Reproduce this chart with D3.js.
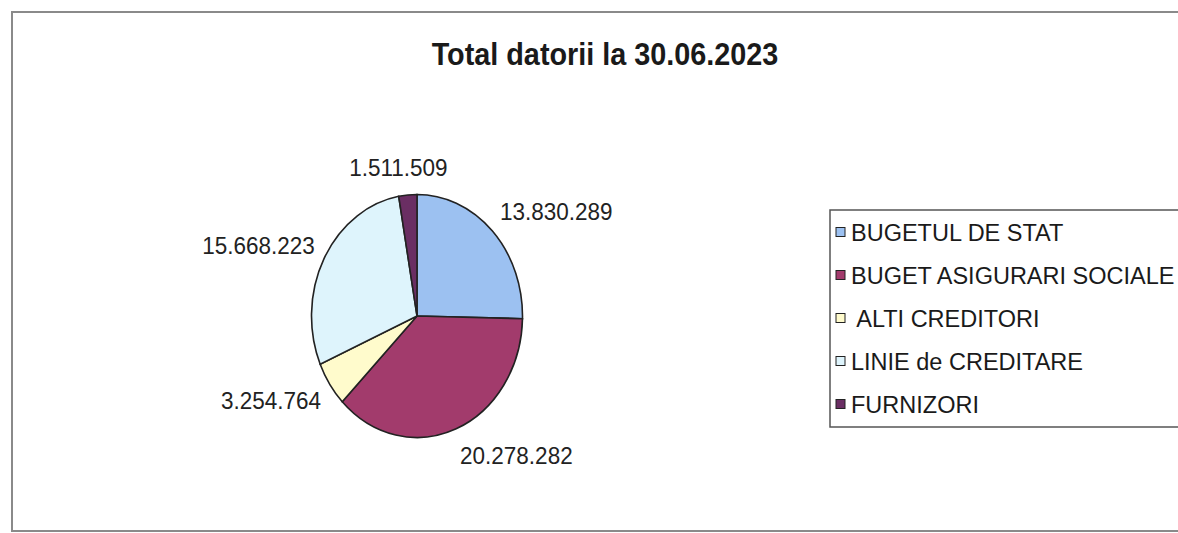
<!DOCTYPE html>
<html>
<head>
<meta charset="utf-8">
<script src="https://cdn.jsdelivr.net/npm/d3@7"></script>
<style>
  html, body { margin: 0; padding: 0; background: #fff; }
  svg { display: block; font-family: "Liberation Sans", Arial, sans-serif; }
</style>
</head>
<body>
<div id="chart"></div>
<script>
const width = 1178;
const height = 533;

const title = "Total datorii la 30.06.2023";
const categories = ["BUGETUL DE STAT", "BUGET ASIGURARI SOCIALE", " ALTI CREDITORI", "LINIE de CREDITARE", "FURNIZORI"];
const values = [13830289, 20278282, 3254764, 15668223, 1511509];
const valueLabels = ["13.830.289", "20.278.282", "3.254.764", "15.668.223", "1.511.509"];
const colors = ["#9cc1f1", "#a23b6c", "#fffbcc", "#def4fc", "#6a2e63"];

const cx = 417, cy = 316;
const rx = 105.5, ry = 121.5;
const stretch = 1.1; // scan is a bit taller than wide

const svg = d3.select("#chart").append("svg")
  .attr("width", width)
  .attr("height", height)
  .attr("viewBox", [0, 0, width, height]);

// chart area border (runs off right edge)
svg.append("rect")
  .attr("x", 12).attr("y", 12)
  .attr("width", width + 20).attr("height", 519)
  .attr("fill", "none")
  .attr("stroke", "#8a8a8a")
  .attr("stroke-width", 2);

svg.append("text")
  .attr("transform", `translate(605,65) scale(1,${stretch})`)
  .attr("text-anchor", "middle")
  .style("font-size", "28.8px")
  .style("font-weight", "bold")
  .attr("fill", "#1a1a1a")
  .text(title);

// pie
const pie = d3.pie().sort(null).value(d => d)(values);
const arc = d3.arc().innerRadius(0).outerRadius(ry);

svg.append("g")
  .attr("transform", `translate(${cx},${cy}) scale(${rx / ry},1)`)
  .selectAll("path")
  .data(pie)
  .join("path")
    .attr("d", arc)
    .attr("fill", (d, i) => colors[i])
    .attr("stroke", "#222")
    .attr("stroke-width", 1.6)
    .attr("vector-effect", "non-scaling-stroke");

// value labels outside each slice
const k = 1.1, boxH = 32, half = 9;
svg.append("g")
  .selectAll("text")
  .data(pie)
  .join("text")
    .style("font-size", "22.5px")
    .attr("fill", "#222")
    .each(function(d, i) {
      const a = (d.startAngle + d.endAngle) / 2;
      const s = Math.sin(a), c = Math.cos(a);
      const t = d3.select(this).text(valueLabels[i]);
      const w = this.getComputedTextLength();
      const anchor = s > 0.3 ? "start" : s < -0.3 ? "end" : "middle";
      let ax = cx + rx * k * s;
      if (anchor === "middle") ax += s * w;
      const ay = cy - ry * k * c - c * boxH / 2 + half;
      t.attr("transform", `translate(${ax},${ay}) scale(1,${stretch})`)
        .attr("text-anchor", anchor);
    });

// legend
const legendY = d3.scalePoint().domain(categories).range([232, 404]);

svg.append("rect")
  .attr("x", 830).attr("y", 210)
  .attr("width", 400).attr("height", 217)
  .attr("fill", "#fff")
  .attr("stroke", "#555")
  .attr("stroke-width", 1.5);

const item = svg.append("g")
  .selectAll("g")
  .data(categories)
  .join("g")
    .attr("transform", d => `translate(836,${legendY(d)})`);

item.append("rect")
  .attr("x", 0).attr("y", -4.5)
  .attr("width", 9).attr("height", 9)
  .attr("fill", (d, i) => colors[i])
  .attr("stroke", "#222")
  .attr("stroke-width", 1);

item.append("text")
  .attr("x", 15).attr("y", 8.5)
  .style("font-size", "23.5px")
  .style("white-space", "pre")
  .attr("fill", "#1a1a1a")
  .text(d => d);
</script>
</body>
</html>
